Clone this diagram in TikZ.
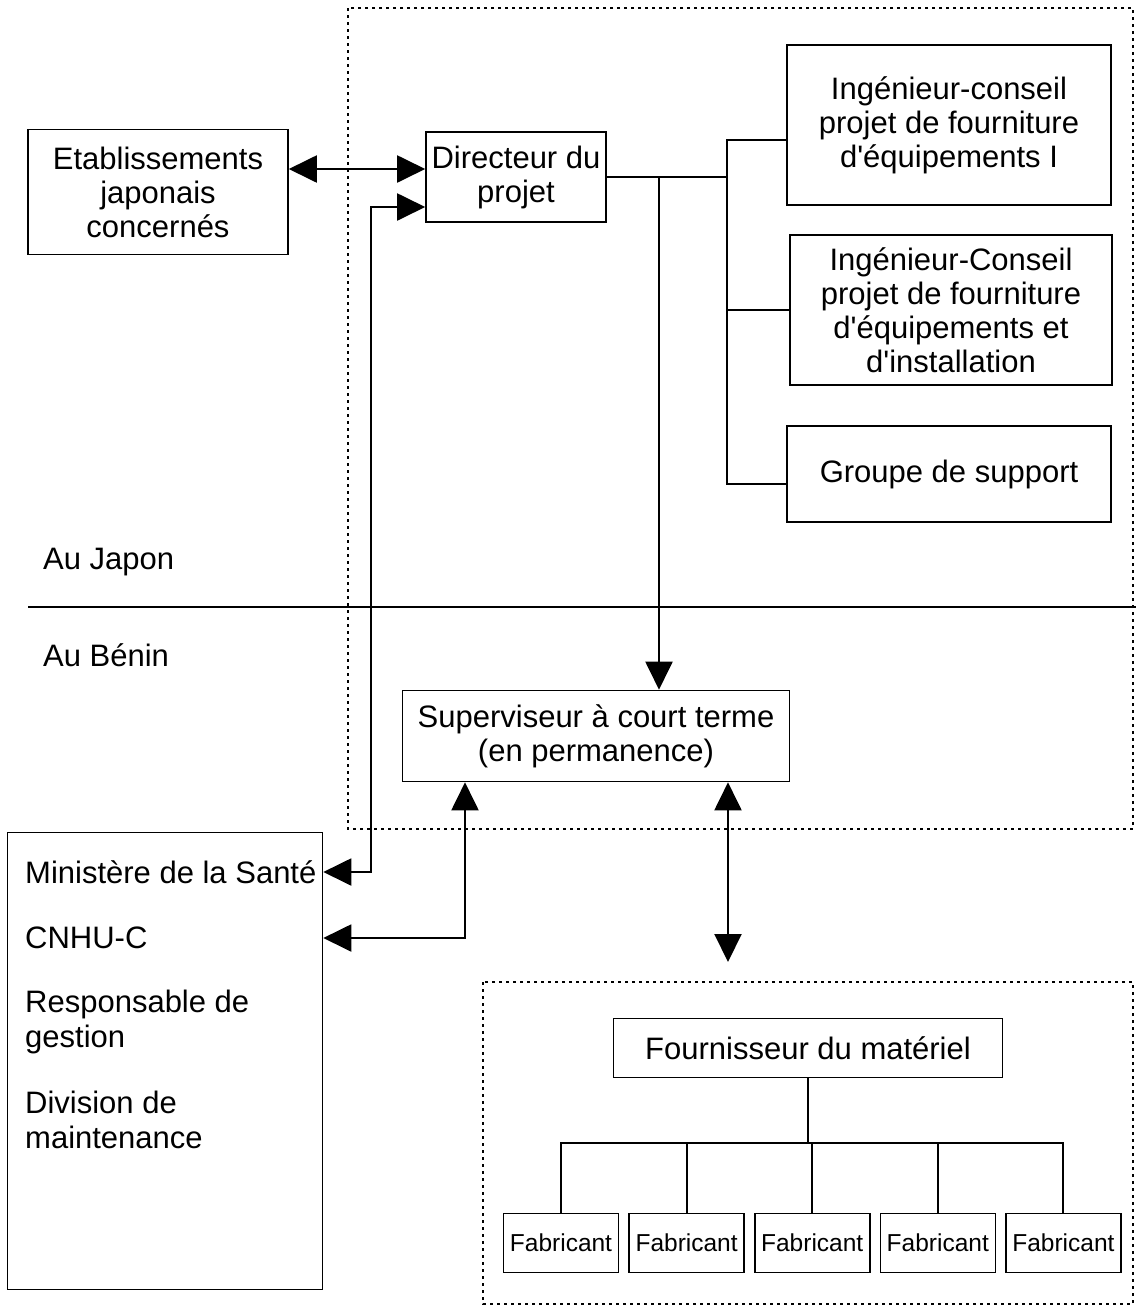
\documentclass[tikz,border=0pt]{standalone}
\usepackage{fontspec}
\setmainfont{Liberation Sans}
\usetikzlibrary{arrows.meta,positioning}
\tikzset{%
  >={Triangle[width=27pt,length=28pt]},
  % Specifications for style of nodes:
            base/.style = {rectangle, draw=black, line width=1.6pt,
                           align=center, inner sep=3pt,
                           font=\fontsize{31}{34}\selectfont},
          fabbox/.style = {base, minimum width=115pt, minimum height=59pt,
                           inner sep=1pt, font=\fontsize{24.5}{28}\selectfont},
       placetext/.style = {anchor=west, inner sep=0pt, align=left,
                           font=\fontsize{31}{35}\selectfont},
        dashzone/.style = {draw=black, line width=1.3pt,
                           dash pattern=on 3pt off 4pt},
            wire/.style = {draw=black, line width=2pt},
}

\begin{document}
\begin{tikzpicture}[x=1pt, y=-1pt]
  \useasboundingbox (0,0) rectangle (1136,1310);
  % Zones and border Japon / Benin
  \draw[dashzone] (348,8) rectangle (1133,829);
  \draw[dashzone] (483,982) rectangle (1133,1304);
  \draw[wire] (28,607) -- (1136,607);
  \node (japon) [placetext] at (43,562) {Au Japon};
  \node (benin) [placetext] at (43,655) {Au Bénin};

  % Specification of nodes (position, etc.)
  \node (etab)   [base, minimum width=260pt, minimum height=125pt] at (158,192) {Etablissements\\japonais\\concernés};
  \node (dir)    [base, minimum width=180pt, minimum height=90pt] at (516,177) {Directeur du\\projet};
  \node (ing1)   [base, minimum width=324pt, minimum height=160pt] at (949,125) {Ingénieur-conseil\\projet de fourniture\\d\textquotesingle équipements I};
  \node (ing2)   [base, minimum width=322pt, minimum height=150pt] at (951,310) {Ingénieur-Conseil\\projet de fourniture\\d\textquotesingle équipements et\\d\textquotesingle installation};
  \node (grp)    [base, minimum width=324pt, minimum height=96pt] at (949,474) {Groupe de support};
  \node (sup)    [base, minimum width=387pt, minimum height=91pt] at (596,736) {Superviseur à court terme\\(en permanence)};
  \node (mins)   [base, minimum width=315pt, minimum height=457pt] at (165,1061) {};
  \node (sante)  [placetext] at (25,872) {Ministère de la Santé};
  \node (cnhu)   [placetext] at (25,938) {CNHU-C};
  \node (resp)   [placetext] at (25,1022) {Responsable de\\gestion};
  \node (divm)   [placetext] at (25,1120) {Division de\\maintenance};
  \node (fourn)  [base, minimum width=389pt, minimum height=59pt] at (808,1048) {Fournisseur du matériel};
  \node (fab1)   [fabbox] at (561,1243) {Fabricant};
  \node (fab2)   [fabbox, right=9pt of fab1] {Fabricant};
  \node (fab3)   [fabbox, right=9pt of fab2] {Fabricant};
  \node (fab4)   [fabbox, right=9pt of fab3] {Fabricant};
  \node (fab5)   [fabbox, right=9pt of fab4] {Fabricant};

  % Turning points of the connectors
  \coordinate (fork)   at (727,177);
  \coordinate (drop)   at (659,177);
  \coordinate (dirin)  at ([yshift=8pt]dir.west);
  \coordinate (dirlow) at ([yshift=-30pt]dir.west);
  \coordinate (grpin)  at ([yshift=-10pt]grp.west);
  \coordinate (riser)  at (371,207);
  \coordinate (bend)   at (465,938);
  \coordinate (supply) at (728,962);
  \coordinate (bus)    at (808,1143);

  \draw[wire, <->]     (dirin -| etab.east) -- (dirin);
  \draw[wire, <->]     (sante -| mins.east) -| (riser) -- (dirlow);
  \draw[wire]          (dir.east) -- (fork);
  \draw[wire]          ([yshift=-15pt]ing1.west) -| (grpin -| fork) -- (grpin);
  \draw[wire]          (fork |- ing2.west) -- (ing2.west);
  \draw[wire, ->]      (drop) -- (drop |- sup.north);
  \draw[wire, <->]     (cnhu -| mins.east) -- (bend) -- (bend |- sup.south);
  \draw[wire, <->]     (supply |- sup.south) -- (supply);
  \draw[wire]          (fourn.south) -- (bus);
  \draw[wire]          (fab1.north) |- (bus);
  \draw[wire]          (fab2.north) |- (bus);
  \draw[wire]          (fab3.north) |- (bus);
  \draw[wire]          (fab4.north) |- (bus);
  \draw[wire]          (fab5.north) |- (bus);
\end{tikzpicture}
\end{document}
